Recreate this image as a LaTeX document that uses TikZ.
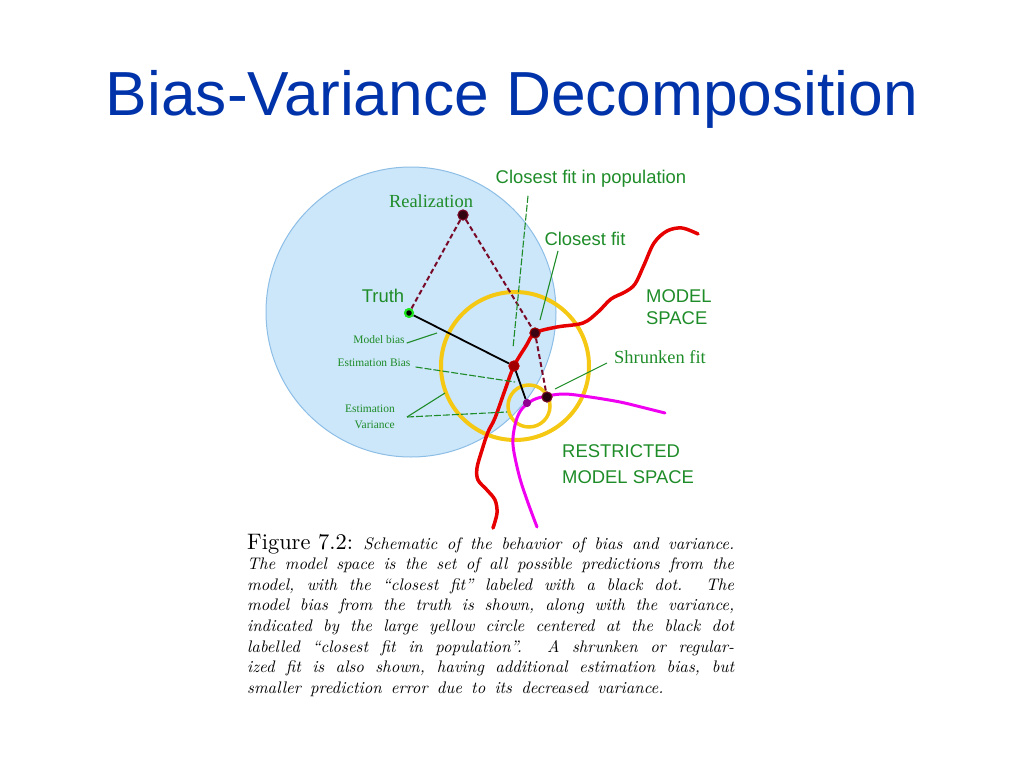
\documentclass[tikz,border=0pt]{standalone}
\usepackage{fontspec}
\newfontfamily\arialf{Liberation Sans}
\newfontfamily\timesf{Liberation Serif}
\newfontfamily\capfont{lmroman10-regular}[Extension=.otf, ItalicFont=lmroman10-italic, Ligatures=TeX]
\definecolor{titleblue}{RGB}{0,51,170}
\definecolor{skyfill}{RGB}{204,230,250}
\definecolor{skyedge}{RGB}{140,190,230}
\definecolor{gold}{RGB}{245,200,20}
\definecolor{mred}{RGB}{230,0,0}
\definecolor{mmag}{RGB}{240,0,240}
\definecolor{dashred}{RGB}{120,10,40}
\definecolor{lgreen}{RGB}{30,140,40}
\definecolor{truthgreen}{RGB}{30,230,30}
\tikzset{
  sanslab/.style={text=lgreen, font=\arialf\fontsize{18.5}{22}\selectfont, inner sep=0pt},
  seriflab/.style={text=lgreen, font=\timesf\fontsize{18.5}{22}\selectfont, inner sep=0pt},
  smalllab/.style={text=lgreen, font=\timesf\fontsize{11.5}{16}\selectfont, inner sep=0pt},
  leader/.style={draw=lgreen, line width=1.1bp},
  leaderdash/.style={leader, dash pattern=on 7bp off 2bp},
  dashconn/.style={draw=dashred, line width=2bp, dash pattern=on 5bp off 3bp},
  solidconn/.style={draw=black, line width=1.8bp},
  dotnode/.style={circle, inner sep=0pt, minimum size=10bp},
}
\begin{document}
\begin{tikzpicture}[x=1bp,y=-1bp]
\useasboundingbox (0,0) rectangle (1024,768);
% title
\node[anchor=base, text=titleblue, font=\arialf\fontsize{62.5}{70}\selectfont, inner sep=0pt] (title) at (512,115) {Bias-Variance Decomposition};
% population circle
\fill[skyfill, draw=skyedge, line width=1bp] (411,312) circle (145);
% variance circles
\draw[gold, line width=4bp] (515,366) circle (74);
\draw[gold, line width=3.5bp] (529,406) circle (21);
% model space
\draw[mred, line width=3.5bp, line cap=round] plot[smooth, tension=0.55] coordinates {
 (493,528) (497,513) (495,500) (487,490) (478,480) (477,468) (482,450) (488,432) (495,418) (505,390) (514,366) (526,346) (535,333) (557,327) (583,323) (598,312) (611,299) (625,292) (635,284) (644,265) (654,243) (667,231) (682,228) (698,234)};
% restricted model space
\draw[mmag, line width=3bp, line cap=round] plot[smooth, tension=0.55] coordinates {
 (537,527) (527,500) (519,475) (513,445) (515,425) (521,410) (533,400) (547,396) (565,394) (590,397) (620,402) (645,408) (665,413)};
% dots
\node[dotnode, fill=truthgreen] (truth) at (409,313) {};
\node[dotnode, fill=black!60!dashred, draw=dashred, line width=1bp] (real) at (463,215) {};
\node[dotnode, fill=black!50!dashred, draw=mred!70!black, line width=1bp] (cfit) at (535,333) {};
\node[dotnode, fill=mred!70!black, draw=mred!80!black, line width=1bp] (pop) at (514,366) {};
\node[dotnode, fill=black!70!dashred, draw=dashred, line width=1bp] (shrunk) at (547,397) {};
\node[circle, inner sep=0pt, minimum size=8bp, fill=black!40!mmag] (est) at (527,403) {};
% connectors
\draw[dashconn] (truth) -- (real);
\draw[dashconn] (real) -- (cfit);
\draw[dashconn] (cfit) -- (shrunk);
\draw[solidconn] (truth) -- (pop);
\draw[solidconn] (pop) -- (est);
% redraw dots on top
\node[dotnode, fill=black!60!dashred, draw=dashred, line width=1bp] at (real) {};
\node[dotnode, fill=black!50!dashred, draw=mred!70!black, line width=1bp] at (cfit) {};
\node[dotnode, fill=mred!70!black, draw=mred!80!black, line width=1bp] at (pop) {};
\node[dotnode, fill=black!70!dashred, draw=dashred, line width=1bp] at (shrunk) {};
\node[circle, inner sep=0pt, minimum size=8bp, fill=black!40!mmag] at (est) {};
\node[dotnode, fill=truthgreen] at (truth) {};
\node[circle, fill=black, inner sep=0pt, minimum size=5.5bp] at (truth) {};
% labels
\node[seriflab] (lreal) at (431,201) {Realization};
\node[sanslab] (ltruth) at (383,296) {Truth};
\node[sanslab] (lpop) at (591,179) {Closest fit in population};
\node[sanslab] (lcfit) at (585,239) {Closest fit};
\node[sanslab, anchor=west, align=left] (lms) at (646,307) {MODEL\\SPACE};
\node[seriflab] (lshr) at (660,357) {Shrunken fit};
\node[sanslab, anchor=west, align=left, font=\arialf\fontsize{18.5}{26}\selectfont] (lrms) at (562,464) {RESTRICTED\\MODEL SPACE};
\node[smalllab] (lmb) at (379,340) {Model bias};
\node[smalllab] (leb) at (374,363) {Estimation Bias};
\node[smalllab, align=right, anchor=east] (lev) at (395,417) {Estimation\\Variance};
% leaders
\coordinate (popend) at (513,348);
\coordinate (cfitend) at (540,320);
\coordinate (shrend) at (555,389);
\coordinate (mbend) at (437,333);
\coordinate (ebend) at (515,382);
\coordinate (ev1) at (445,393);
\coordinate (ev2) at (507,412);
\draw[leaderdash] (lpop.south -| 528,0) ++(0,8) -- (popend);
\draw[leader] (lcfit.south -| 558,0) ++(0,5) -- (cfitend);
\draw[leader] (lshr.west) ++(-7,6) -- (shrend);
\draw[leader] (lmb.east) ++(2,3) -- (mbend);
\draw[leaderdash] (leb.east) ++(5,4) -- (ebend);
\draw[leader] (lev.east) ++(12,0) coordinate (evs) -- (ev1);
\draw[leaderdash] (evs) -- (ev2);
% caption
\node[anchor=base west, inner sep=0pt, text width=487bp, align=justify] (cap) at (247,549)
 {\capfont\fontsize{22.5}{20.7}\selectfont Figure 7.2: \fontsize{16.8}{20.7}\selectfont\itshape
 \spaceskip=0.55em plus 0.4em minus 0.05em \xspaceskip=\spaceskip
 Schematic of the behavior of bias and variance.\linebreak
 The model space is the set of all possible predictions from the\linebreak
 model, with the “closest fit” labeled with a black dot.\ \ The\linebreak
 model bias from the truth is shown, along with the variance,\linebreak
 indicated by the large yellow circle centered at the black dot\linebreak
 labelled “closest fit in population”.\ \ A shrunken or regular-\linebreak
 ized fit is also shown, having additional estimation bias, but\linebreak
 smaller prediction error due to its decreased variance.\par};
\end{tikzpicture}
\end{document}
